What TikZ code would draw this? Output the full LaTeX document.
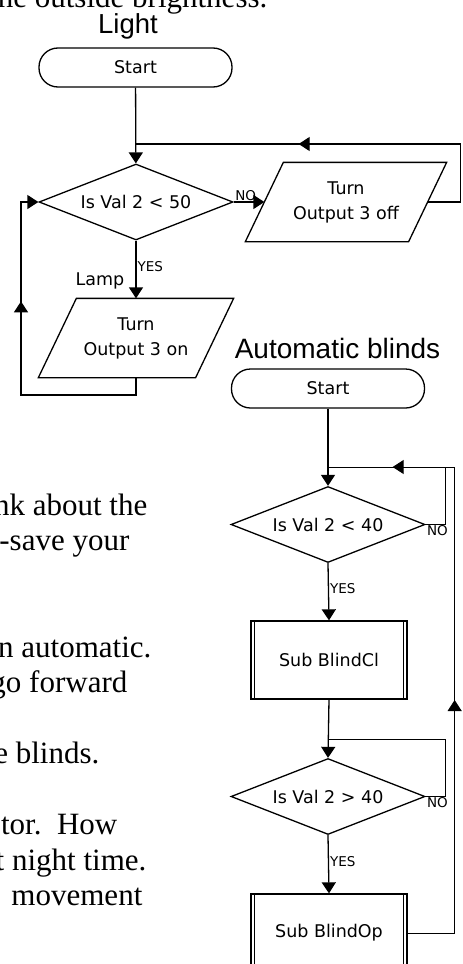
\documentclass[tikz,border=0pt]{standalone}
\usepackage{fontspec}
\setmainfont{DejaVu Sans}
\newfontfamily\titlefont{Liberation Sans}
\newfontfamily\bodyfont{Liberation Serif}
\usepackage{tikz}
\usetikzlibrary{arrows.meta, shapes.geometric, decorations.markings}

\begin{document}
\begin{tikzpicture}[x=1pt, y=-1pt, line width=1.3pt,
      every node/.style={font=\fontsize{17.5}{25}\selectfont},
      term/.style={draw, rounded corners=19pt, minimum width=193, minimum height=39, inner sep=0pt},
      dec/.style={draw, diamond, aspect=2.55, minimum width=194, minimum height=76, inner sep=0pt},
      io/.style={minimum height=78, align=center, inner sep=0pt},
      sub/.style={draw, minimum width=156, minimum height=78},
      lbl/.style={font=\fontsize{13.5}{14}\selectfont, inner sep=1pt},
      ttl/.style={font=\titlefont\fontsize{27.5}{30}\selectfont, anchor=base, inner sep=0pt},
      body/.style={font=\bodyfont\fontsize{31}{35}\selectfont, anchor=base east, inner sep=0pt},
      arr/.style={-{Triangle[length=11pt, width=14pt]}},
      thinln/.style={line width=0.9pt},
      midarrow/.style={postaction={decorate, decoration={markings,
                 mark=at position #1 with {\arrow{Triangle[length=11pt, width=14pt]}}}}}]
      \useasboundingbox (0,0) rectangle (463,964);
      % page text cut by the picture
      \foreach \yy/\xx/\txt [count=\i] in {7/268/{he outside brightness.}, 515/148/{nk about the},
                550.5/130/{-save your}, 657/152/{n automatic.}, 692.5/128/{go forward},
                763.5/100/{e blinds.}, 834.5/118/{tor.\ \ How}, 870/147/{t night time.},
                905.5/143/{movement}}
        \node[body] (t\i) at (\xx,\yy) {\txt};
      % Light
      \node[ttl] (light) at (128,33) {Light};
      \node[term] (s1) at (135.5,67.5) {Start};
      \node[dec] (d1) at (136,202) {Is Val 2 < 50};
      \node[io, minimum width=162] (off) at (346,202) {Turn\\Output 3 off};
      \node[io, minimum width=156] (on) at (136,338) {Turn\\Output 3 on};
      \foreach \p in {off,on}
        \draw ([xshift=-19]\p.south west) -- ([xshift=19]\p.north west)
          -- ([xshift=19]\p.north east) -- ([xshift=-19]\p.south east) -- cycle;
      \node (lamp) at (100,281) {Lamp};
      \coordinate (j1) at (136,144);
      \coordinate (k1) at (21,395);
      \draw[arr] (s1) -- (d1);
      \draw[arr] (d1.east) -- (off.west) node[lbl, above right, pos=0] {NO};
      \draw[midarrow=253pt] (off.east) -- ++(33,0) |- (j1);
      \draw[arr] (d1.south) -- (on.north) node[lbl, right, pos=0.45] {YES};
      \draw[arr, midarrow=226pt] (on.south) |- (k1) |- (d1.west);
      % Automatic blinds
      \node[ttl, font=\titlefont\fontsize{28}{30}\selectfont] (auto) at (337.5,358) {Automatic blinds};
      \node[term] (s2) at (328,388.5) {Start};
      \node[dec] (q1) at (328,524.5) {Is Val 2 < 40};
      \node[sub] (cl) at (329,660) {Sub BlindCl};
      \node[dec] (q2) at (328,796.5) {Is Val 2 > 40};
      \node[sub] (op) at (329,933) {Sub BlindOp};
      \foreach \b in {cl,op} {
        \draw[thinln] ([xshift=4]\b.north west) -- ([xshift=4]\b.south west);
        \draw[thinln] ([xshift=-4]\b.north east) -- ([xshift=-4]\b.south east);
      }
      \coordinate (j2) at (328,467);
      \coordinate (j3) at (328,739);
      \draw[arr] (s2) -- (q1);
      \draw[thinln] (q1.east) -- ++(20,0) node[lbl, below right, pos=0] {NO} |- (j2);
      \draw[arr] (q1.south) -- (cl.north) node[lbl, right, pos=0.45] {YES};
      \draw[arr] (cl.south) -- (q2.north);
      \draw[thinln] (q2.east) -- ++(20,0) node[lbl, below right, pos=0] {NO} |- (j3);
      \draw[arr] (q2.south) -- (op.north) node[lbl, right, pos=0.45] {YES};
      \draw[thinln, midarrow=280pt, midarrow=575pt] (op.east) -- ++(47,0) |- (j2);
    \end{tikzpicture}
\end{document}
